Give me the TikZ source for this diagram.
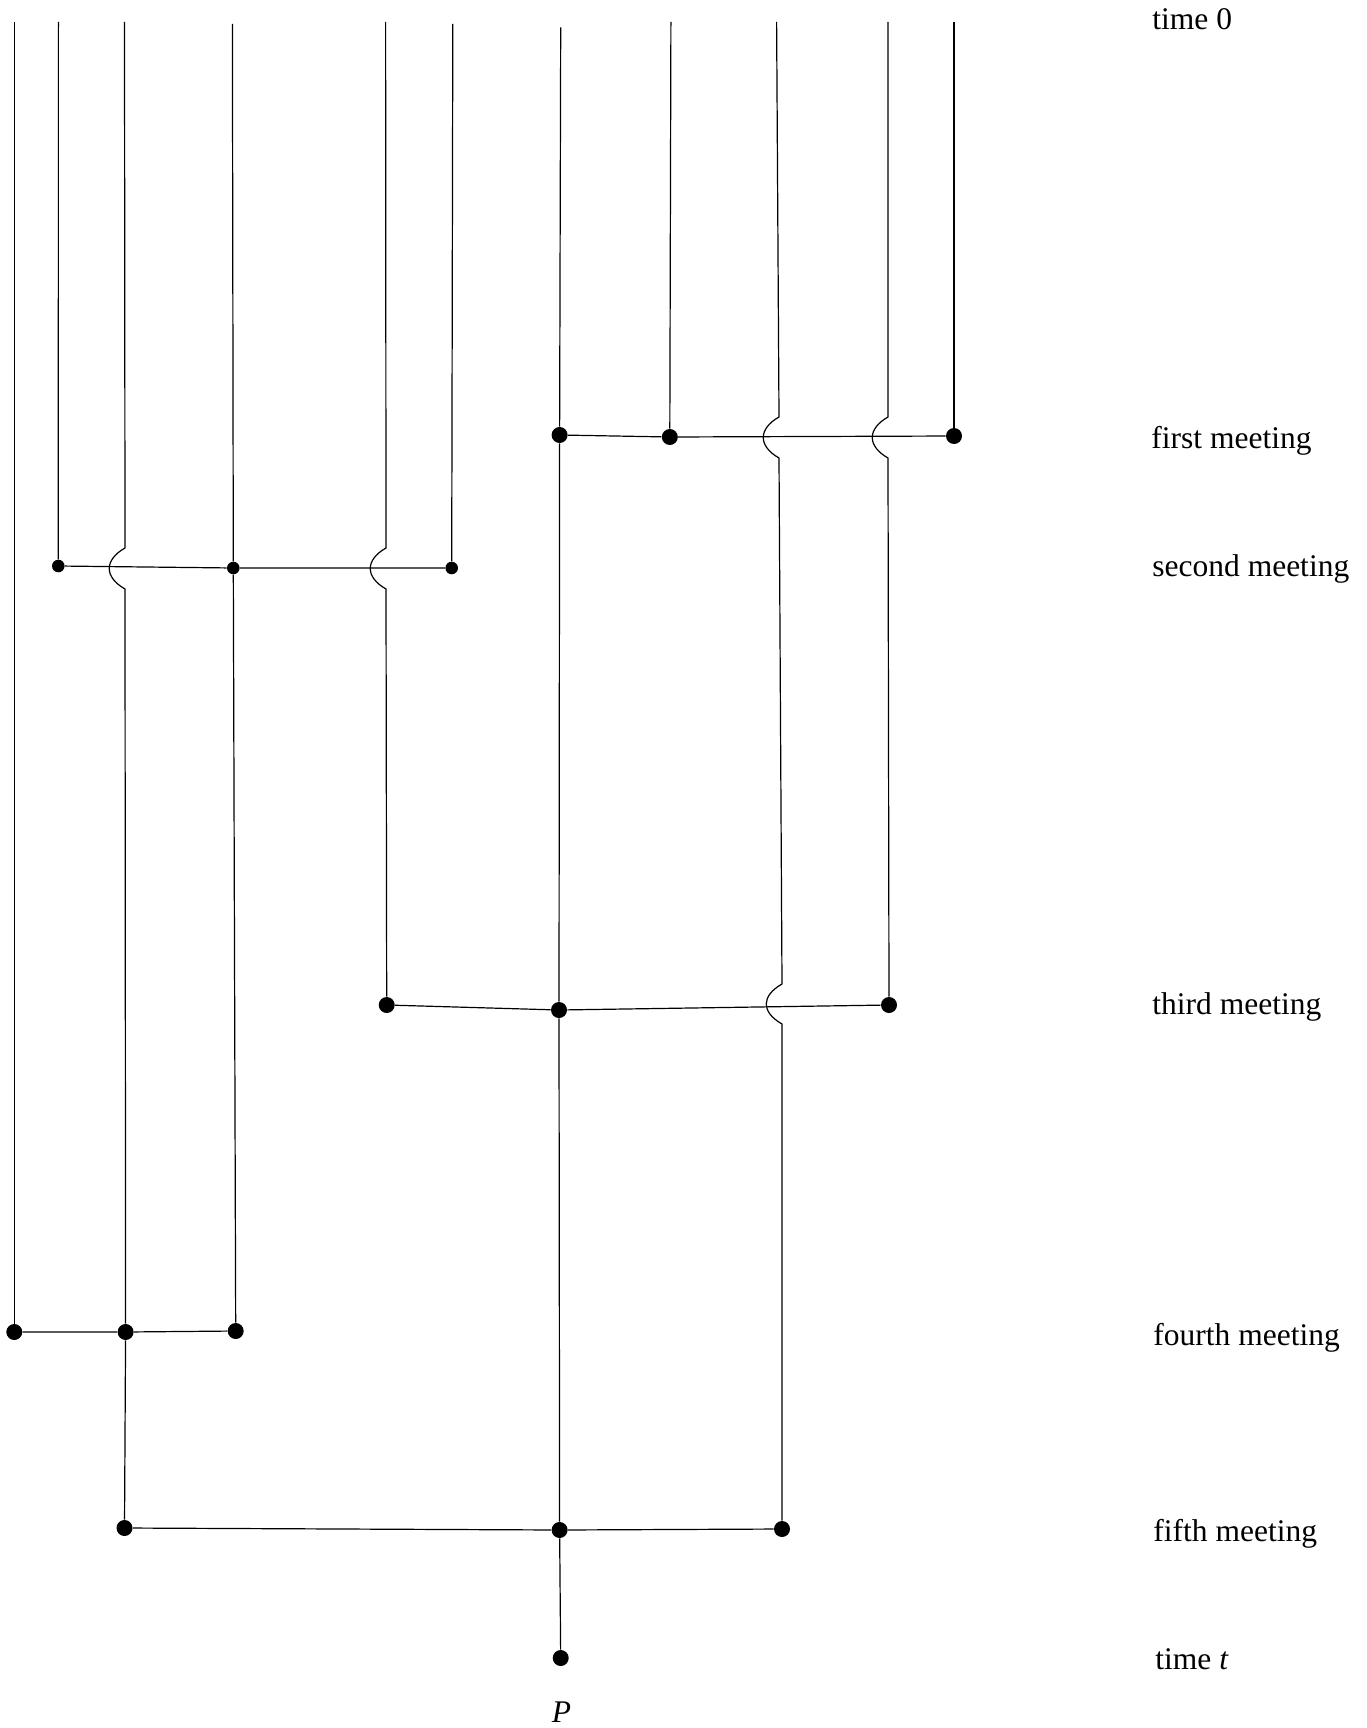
\documentclass[tikz,border=0pt]{standalone}
\usepackage{fontspec}
\setmainfont{Liberation Serif}
\begin{document}
\begin{tikzpicture}[x=0.5pt,y=-0.5pt,
  dot/.style={circle,fill=black,inner sep=0pt,minimum size=8pt},
  sdot/.style={circle,fill=black,inner sep=0pt,minimum size=6.3pt},
  wire/.style={draw=black,line width=0.6pt},
  lab/.style={anchor=mid west,inner sep=0pt,font=\fontsize{15.75}{19}\selectfont}]
\useasboundingbox (0,0) rectangle (1366,1728);

% tops of the lines (time 0)
\coordinate (t1) at (14.3,22);
\coordinate (t2) at (58.4,22);
\coordinate (t3) at (124.5,22);
\coordinate (t4) at (232.4,24);
\coordinate (t5) at (385.6,22);
\coordinate (t6) at (452.8,24);
\coordinate (t7) at (560.7,27.5);
\coordinate (t8) at (670.9,22);
\coordinate (t9) at (776.6,22);
\coordinate (t10) at (887.9,22);
\coordinate (t11) at (954,22);

% first meeting
\node[dot] (m1a) at (559.6,435) {};
\node[dot] (m1b) at (669.8,437) {};
\node[dot] (m1c) at (954,436) {};
% second meeting
\node[sdot] (m2a) at (58.3,566) {};
\node[sdot] (m2b) at (233.3,568) {};
\node[sdot] (m2c) at (451.7,568) {};
% third meeting
\node[dot] (m3a) at (386.7,1005) {};
\node[dot] (m3b) at (559,1010) {};
\node[dot] (m3c) at (889,1005) {};
% fourth meeting
\node[dot] (m4a) at (14.3,1332) {};
\node[dot] (m4b) at (125.6,1332) {};
\node[dot] (m4c) at (235.7,1331) {};
% fifth meeting
\node[dot] (m5a) at (124.5,1528) {};
\node[dot] (m5b) at (559.6,1530) {};
\node[dot] (m5c) at (782,1529) {};
% time t
\node[dot] (pt) at (560.7,1658) {};
\node[inner sep=0pt,font=\fontsize{15.75}{19}\selectfont\itshape] (plab) at (561.5,1712) {P};

% hop coordinates
\coordinate (h3a) at (125,548);  \coordinate (h3b) at (125,589);
\coordinate (h5a) at (386,548);  \coordinate (h5b) at (386,589);
\coordinate (h9a) at (779,417);  \coordinate (h9b) at (779,458);
\coordinate (h9c) at (782,984);  \coordinate (h9d) at (782,1024);
\coordinate (h10a) at (888,417); \coordinate (h10b) at (888,458);

% vertical lines
\draw[wire] (t1) -- (m4a);
\draw[wire] (t2) -- (m2a);
\draw[wire] (t3) -- (h3a) .. controls (104,560) and (104,577) .. (h3b) -- (m4b) -- (m5a);
\draw[wire] (t4) -- (m2b) -- (m4c);
\draw[wire] (t5) -- (h5a) .. controls (365,560) and (365,577) .. (h5b) -- (m3a);
\draw[wire] (t6) -- (m2c);
\draw[wire] (t7) -- (m1a) -- (m3b) -- (m5b) -- (pt);
\draw[wire] (t8) -- (m1b);
\draw[wire] (t9) -- (h9a) .. controls (758,429) and (758,446) .. (h9b) -- (h9c) .. controls (761,996) and (761,1012) .. (h9d) -- (m5c);
\draw[wire] (t10) -- (h10a) .. controls (867,429) and (867,446) .. (h10b) -- (m3c);
\draw[wire] (t11) -- (m1c);

% horizontal lines (meetings)
\draw[wire] (m1a) -- (m1b) -- (m1c);
\draw[wire] (m2a) -- (m2b) -- (m2c);
\draw[wire] (m3a) -- (m3b) -- (m3c);
\draw[wire] (m4a) -- (m4b) -- (m4c);
\draw[wire] (m5a) -- (m5b) -- (m5c);

% labels
\node[lab] (l0) at (1152,25) {time 0};
\node[lab] (l1) at (1151,444) {first meeting};
\node[lab] (l2) at (1152,572) {second meeting};
\node[lab] (l3) at (1152,1010) {third meeting};
\node[lab] (l4) at (1153,1341) {fourth meeting};
\node[lab] (l5) at (1153,1537) {fifth meeting};
\node[lab] (l6) at (1155,1665) {time \textit{t}};
\end{tikzpicture}
\end{document}
